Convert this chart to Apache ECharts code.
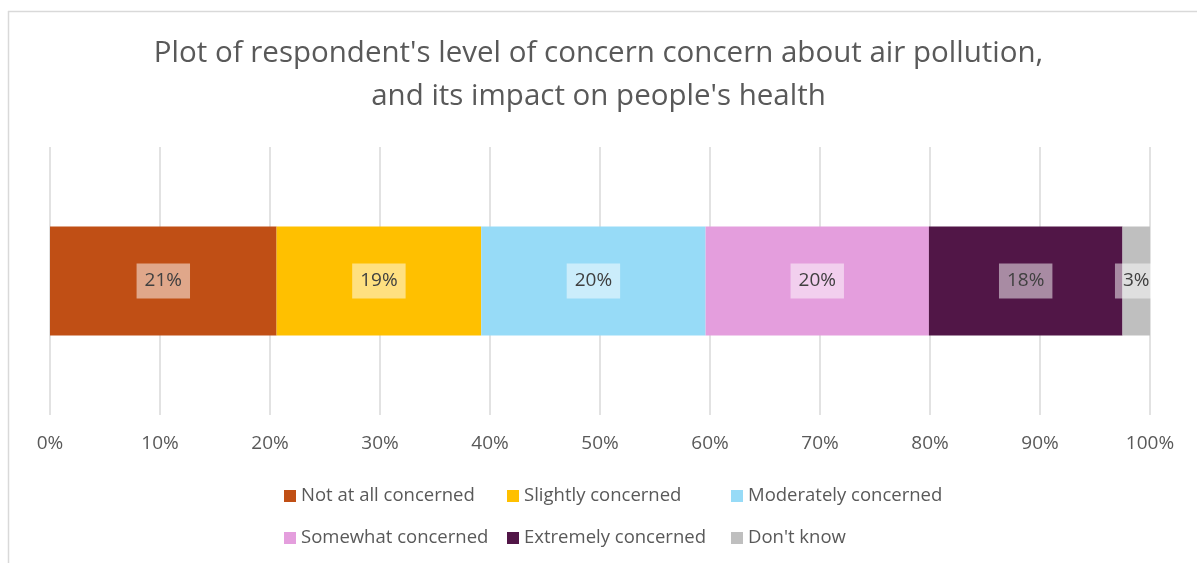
<!DOCTYPE html>
<html>
<head>
<meta charset="utf-8">
<script src="https://cdn.jsdelivr.net/npm/echarts@6/dist/echarts.min.js"></script>
<style>html,body{margin:0;padding:0;background:#fff;}#c{width:1197px;height:563px;}</style>
</head>
<body>
<div id="c"></div>
<script>
const categories = ['Concern'];
const seriesNames = ['Not at all concerned', 'Slightly concerned', 'Moderately concerned', 'Somewhat concerned', 'Extremely concerned', "Don't know"];
const notAtAll = [20.6];
const slightly = [18.6];
const moderately = [20.4];
const somewhat = [20.3];
const extremely = [17.6];
const dontKnow = [2.5];
const tickLabels = ['0%','10%','20%','30%','40%','50%','60%','70%','80%','90%','100%'];
const colors = ['#C04F15', '#FFC000', '#97DBF7', '#E49EDD', '#511647', '#BFBFBF'];
const values = [notAtAll, slightly, moderately, somewhat, extremely, dontKnow];

const FONT = '"Open Sans", "Noto Sans", sans-serif';
const chart = echarts.init(document.getElementById('c'));
const legendCols = [279, 502, 726];
const legendRows = [481, 523];
const legends = seriesNames.map(function (name, i) {
  return {
    left: legendCols[i % 3], top: legendRows[Math.floor(i / 3)],
    itemWidth: 12, itemHeight: 12, itemGap: 10, icon: 'rect',
    textStyle: { color: '#595959', fontSize: 18.5, fontFamily: FONT, lineHeight: 20 },
    data: [name]
  };
});
chart.setOption({
  backgroundColor: '#fff',
  animation: false,
  title: {
    text: "Plot of respondent's level of concern concern about air pollution,\nand its impact on people's health",
    left: 'center', top: 27,
    textStyle: { color: '#595959', fontSize: 29.5, fontWeight: 'normal', fontFamily: FONT, lineHeight: 43 }
  },
  graphic: [
    { type: 'line', shape: { x1: 8, y1: 11.5, x2: 1197, y2: 11.5 }, style: { stroke: '#d9d9d9', lineWidth: 1.5 } },
    { type: 'line', shape: { x1: 8.5, y1: 11, x2: 8.5, y2: 563 }, style: { stroke: '#d9d9d9', lineWidth: 1.5 } }
  ],
  legend: legends,
  grid: { left: 50, right: 47, top: 147, bottom: 148 },
  xAxis: {
    type: 'value', min: 0, max: 100, interval: 10,
    axisLine: { show: false }, axisTick: { show: false },
    splitLine: { lineStyle: { color: '#d9d9d9', width: 1.5 } },
    axisLabel: { color: '#595959', fontSize: 19, fontFamily: FONT, margin: 19,
      formatter: function (v) { return tickLabels[Math.round(v / 10)]; } }
  },
  yAxis: {
    type: 'category', data: categories, show: false
  },
  series: seriesNames.map(function (name, i) {
    return {
      name: name, type: 'bar', stack: 'total', barWidth: 109,
      itemStyle: { color: colors[i] },
      data: values[i],
      label: {
        show: true, position: 'inside',
        formatter: function (p) { return Math.round(p.value) + '%'; },
        color: '#404040', fontSize: 19, fontFamily: FONT, lineHeight: 20,
        backgroundColor: 'rgba(255,255,255,0.5)', padding: [8, 8, 7, 8]
      }
    };
  })
});
</script>
</body>
</html>
